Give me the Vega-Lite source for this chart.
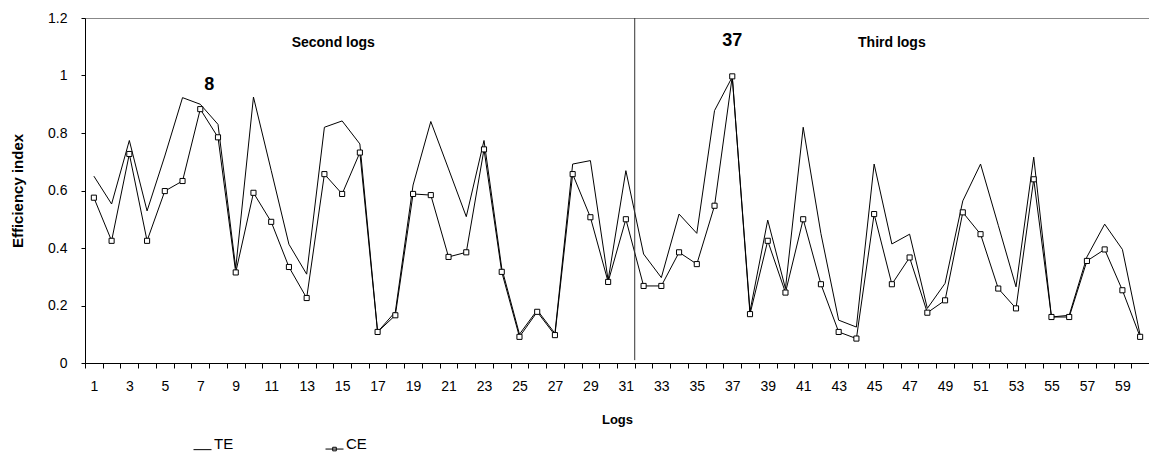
{
  "$schema": "https://vega.github.io/schema/vega-lite/v6.json",
  "width": 1064,
  "height": 345,
  "autosize": {"type": "none"},
  "padding": {"left": 85, "top": 18, "right": 0, "bottom": 90},
  "background": "white",
  "config": {
    "font": "Liberation Sans",
    "view": {"stroke": "#888888", "strokeWidth": 1},
    "axis": {"labelColor": "black", "domainColor": "black", "tickColor": "black", "titleColor": "black", "grid": false, "labelFontSize": 14, "labelFont": "Liberation Sans", "titleFont": "Liberation Sans"}
  },
  "data": {"values": [
    {"log": 1, "TE": 0.65, "CE": 0.575},
    {"log": 2, "TE": 0.553, "CE": 0.425},
    {"log": 3, "TE": 0.774, "CE": 0.727},
    {"log": 4, "TE": 0.529, "CE": 0.425},
    {"log": 5, "TE": 0.72, "CE": 0.598},
    {"log": 6, "TE": 0.923, "CE": 0.633},
    {"log": 7, "TE": 0.9, "CE": 0.883},
    {"log": 8, "TE": 0.83, "CE": 0.785},
    {"log": 9, "TE": 0.33, "CE": 0.315},
    {"log": 10, "TE": 0.925, "CE": 0.592},
    {"log": 11, "TE": 0.67, "CE": 0.491},
    {"log": 12, "TE": 0.413, "CE": 0.334},
    {"log": 13, "TE": 0.309, "CE": 0.226},
    {"log": 14, "TE": 0.82, "CE": 0.657},
    {"log": 15, "TE": 0.842, "CE": 0.588},
    {"log": 16, "TE": 0.762, "CE": 0.732},
    {"log": 17, "TE": 0.108, "CE": 0.108},
    {"log": 18, "TE": 0.178, "CE": 0.166},
    {"log": 19, "TE": 0.619, "CE": 0.588},
    {"log": 20, "TE": 0.84, "CE": 0.584},
    {"log": 21, "TE": 0.675, "CE": 0.369},
    {"log": 22, "TE": 0.509, "CE": 0.385},
    {"log": 23, "TE": 0.774, "CE": 0.743},
    {"log": 24, "TE": 0.33, "CE": 0.317},
    {"log": 25, "TE": 0.1, "CE": 0.091},
    {"log": 26, "TE": 0.184, "CE": 0.178},
    {"log": 27, "TE": 0.103, "CE": 0.097},
    {"log": 28, "TE": 0.692, "CE": 0.657},
    {"log": 29, "TE": 0.704, "CE": 0.507},
    {"log": 30, "TE": 0.288, "CE": 0.282},
    {"log": 31, "TE": 0.669, "CE": 0.5},
    {"log": 32, "TE": 0.379, "CE": 0.268},
    {"log": 33, "TE": 0.297, "CE": 0.268},
    {"log": 34, "TE": 0.518, "CE": 0.385},
    {"log": 35, "TE": 0.451, "CE": 0.344},
    {"log": 36, "TE": 0.878, "CE": 0.547},
    {"log": 37, "TE": 0.995, "CE": 0.997},
    {"log": 38, "TE": 0.18, "CE": 0.17},
    {"log": 39, "TE": 0.497, "CE": 0.425},
    {"log": 40, "TE": 0.259, "CE": 0.245},
    {"log": 41, "TE": 0.82, "CE": 0.5},
    {"log": 42, "TE": 0.45, "CE": 0.274},
    {"log": 43, "TE": 0.149, "CE": 0.108},
    {"log": 44, "TE": 0.125, "CE": 0.085},
    {"log": 45, "TE": 0.692, "CE": 0.518},
    {"log": 46, "TE": 0.414, "CE": 0.274},
    {"log": 47, "TE": 0.448, "CE": 0.367},
    {"log": 48, "TE": 0.19, "CE": 0.175},
    {"log": 49, "TE": 0.277, "CE": 0.218},
    {"log": 50, "TE": 0.564, "CE": 0.524},
    {"log": 51, "TE": 0.692, "CE": 0.448},
    {"log": 52, "TE": 0.479, "CE": 0.259},
    {"log": 53, "TE": 0.265, "CE": 0.19},
    {"log": 54, "TE": 0.716, "CE": 0.639},
    {"log": 55, "TE": 0.16, "CE": 0.16},
    {"log": 56, "TE": 0.166, "CE": 0.16},
    {"log": 57, "TE": 0.369, "CE": 0.355},
    {"log": 58, "TE": 0.483, "CE": 0.395},
    {"log": 59, "TE": 0.395, "CE": 0.253},
    {"log": 60, "TE": 0.097, "CE": 0.091}
  ]},
  "transform": [{"fold": ["TE", "CE"], "as": ["series", "value"]}],
  "encoding": {
    "x": {
      "field": "log", "type": "ordinal",
      "scale": {"type": "band", "paddingInner": 0, "paddingOuter": 0},
      "axis": {
        "title": "Logs", "titleFontWeight": "bold", "titleFontSize": 13, "titlePadding": 20,
        "labelAngle": 0, "tickBand": "extent", "tickSize": 5, "labelPadding": 11,
        "labelExpr": "datum.value % 2 == 1 ? datum.label : ''"
      }
    },
    "y": {
      "field": "value", "type": "quantitative",
      "scale": {"domain": [0, 1.2], "nice": false},
      "axis": {
        "title": "Efficiency index", "titleFontWeight": "bold", "titleFontSize": 15, "titlePadding": 22,
        "values": [0, 0.2, 0.4, 0.6, 0.8, 1, 1.2], "format": "~g", "tickSize": 4, "labelPadding": 14
      }
    }
  },
  "layer": [
    {
      "mark": {"type": "line", "color": "black", "strokeWidth": 1},
      "encoding": {"detail": {"field": "series", "type": "nominal"}}
    },
    {
      "transform": [{"filter": "datum.series == 'CE'"}],
      "mark": {"type": "point", "shape": "square", "filled": true, "fill": "white", "stroke": "black", "strokeWidth": 1, "size": 26, "opacity": 1}
    },
    {
      "data": {"values": [{"log": 32, "lo": 0.01, "hi": 1.2}]},
      "mark": {"type": "rule", "color": "#333333", "strokeWidth": 1},
      "encoding": {
        "x": {"field": "log", "type": "ordinal", "bandPosition": 0},
        "y": {"field": "lo", "type": "quantitative"},
        "y2": {"field": "hi"}
      }
    },
    {
      "data": {"values": [{"log": 15, "v": 1.114, "label": "Second logs"}]},
      "mark": {"type": "text", "font": "Liberation Sans", "fontWeight": "bold", "fontSize": 14, "baseline": "middle", "align": "center", "color": "black"},
      "encoding": {
        "x": {"field": "log", "type": "ordinal", "bandPosition": 0},
        "y": {"field": "v", "type": "quantitative"},
        "text": {"field": "label"}
      }
    },
    {
      "data": {"values": [{"log": 46, "v": 1.114, "label": "Third logs"}]},
      "mark": {"type": "text", "font": "Liberation Sans", "fontWeight": "bold", "fontSize": 14, "baseline": "middle", "align": "center", "color": "black"},
      "encoding": {
        "x": {"field": "log", "type": "ordinal"},
        "y": {"field": "v", "type": "quantitative"},
        "text": {"field": "label"}
      }
    },
    {
      "data": {"values": [{"log": 8, "v": 0.968, "label": "8"}]},
      "mark": {"type": "text", "font": "Liberation Sans", "fontWeight": "bold", "fontSize": 18, "baseline": "middle", "align": "center", "color": "black"},
      "encoding": {
        "x": {"field": "log", "type": "ordinal", "bandPosition": 0},
        "y": {"field": "v", "type": "quantitative"},
        "text": {"field": "label"}
      }
    },
    {
      "data": {"values": [{"log": 37, "v": 1.119, "label": "37"}]},
      "mark": {"type": "text", "font": "Liberation Sans", "fontWeight": "bold", "fontSize": 18, "baseline": "middle", "align": "center", "color": "black"},
      "encoding": {
        "x": {"field": "log", "type": "ordinal"},
        "y": {"field": "v", "type": "quantitative"},
        "text": {"field": "label"}
      }
    },
    {
      "data": {"values": [{"series": "TE"}, {"series": "CE"}]},
      "mark": {"type": "point", "opacity": 0},
      "encoding": {
        "x": null, "y": null,
        "shape": {
          "field": "series", "type": "nominal",
          "scale": {"domain": ["TE", "CE"], "range": ["M-1,0.6H1", "M-1,0.6H1M-0.2,0.4H0.2V0.8H-0.2Z"]},
          "legend": {
            "title": null, "orient": "none", "legendX": 108, "legendY": 416, "direction": "horizontal",
            "padding": 0, "symbolSize": 324, "symbolOpacity": 1, "symbolStrokeColor": "black", "symbolFillColor": "white",
            "symbolStrokeWidth": 1, "labelFontSize": 15, "labelFont": "Liberation Sans", "labelColor": "black",
            "labelOffset": 2, "columnPadding": 89
          }
        }
      }
    }
  ]
}
